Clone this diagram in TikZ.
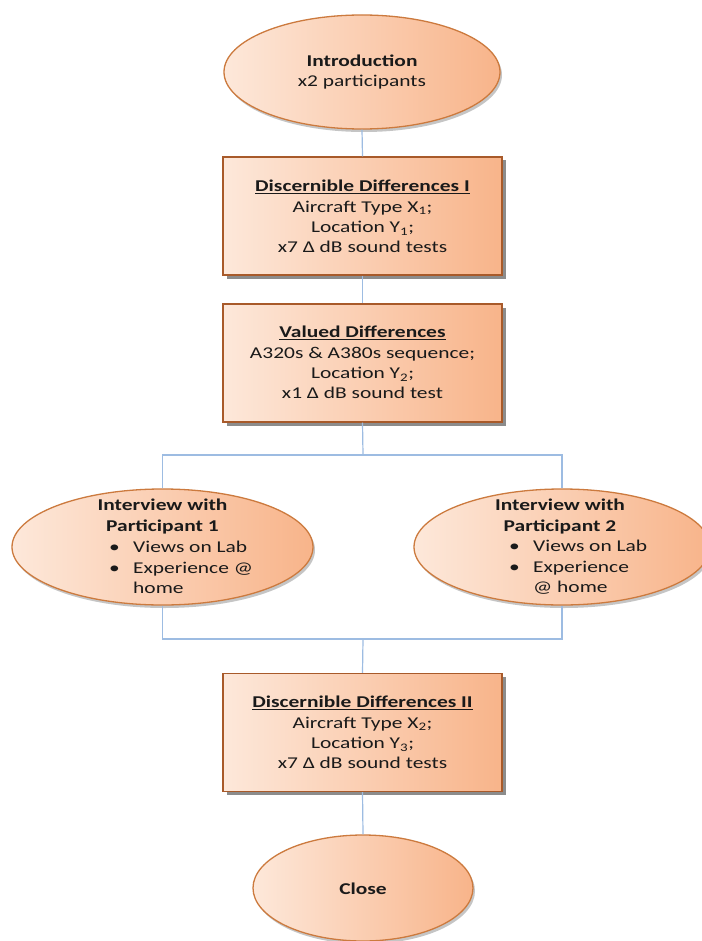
\documentclass[tikz,border=0pt]{standalone}
\usepackage{fontspec}
\setmainfont[FakeStretch=1.3]{Carlito}
\usetikzlibrary{shapes.geometric,shadows}
\definecolor{peachL}{HTML}{FDE8DA}
\definecolor{peachR}{HTML}{F8B48A}
\definecolor{ellborder}{HTML}{CC7A3E}
\definecolor{boxborder}{HTML}{A85A2A}
\definecolor{connblue}{HTML}{9DBCE2}
\definecolor{textcol}{HTML}{1A1A1A}
\begin{document}
\begin{tikzpicture}[x=1pt,y=-1pt,
  conn/.style={draw=connblue, line width=1.2pt},
  ell/.style={ellipse, draw=ellborder, line width=1.3pt, left color=peachL, right color=peachR, inner sep=0pt,
    drop shadow={shadow xshift=2pt, shadow yshift=-3pt, fill=black!50, opacity=0.45}},
  boxn/.style={rectangle, draw=boxborder, line width=1.2pt, left color=peachL, right color=peachR,
    minimum width=279pt, minimum height=118pt, inner sep=0pt,
    drop shadow={shadow xshift=3.5pt, shadow yshift=-3.5pt, fill=black!75, opacity=0.6}},
  txt/.style={font=\fontsize{16.5}{20.4}\selectfont, align=center, text=textcol, inner sep=0pt}]
\useasboundingbox (0,0) rectangle (701,941);
\fill[white] (0,0) rectangle (701,941);

% coordinates for junctions
\coordinate (jt) at (363,455);
\coordinate (jb) at (363,639);

% nodes
\node[ell, minimum width=276pt, minimum height=114pt] (intro) at (362,72) {};
\node[txt] (introt) at (362,72) {\textbf{Introduction}\\x2 participants};

\node[boxn] (b1) at (362.5,216) {};
\node[txt] (b1t) at (362.5,216.5) {\textbf{\underline{Discernible Differences I}}\\Aircraft Type X\textsubscript{1};\\Location Y\textsubscript{1};\\x7 Δ dB sound tests};

\node[boxn] (b2) at (362.5,363) {};
\node[txt] (b2t) at (362.5,362.5) {\textbf{\underline{Valued Differences}}\\A320s \& A380s sequence;\\Location Y\textsubscript{2};\\x1 Δ dB sound test};

\node[ell, minimum width=301pt, minimum height=116pt] (p1) at (162.5,547) {};
\node[txt] (p1t) at (162.5,516.5) {\textbf{Interview with}\\\textbf{Participant 1}};
\node[txt, align=left, anchor=west] (p1b) at (109,567.5) {\makebox[24pt][l]{•}Views on Lab\\\makebox[24pt][l]{•}Experience @\\\makebox[24pt][l]{}home};

\node[ell, minimum width=296pt, minimum height=116pt] (p2) at (562,547) {};
\node[txt] (p2t) at (560,516.5) {\textbf{Interview with}\\\textbf{Participant 2}};
\node[txt, align=left, anchor=west] (p2b) at (509,567.5) {\makebox[24pt][l]{•}Views on Lab\\\makebox[24pt][l]{•}Experience\\\makebox[24pt][l]{}@ home};

\node[boxn] (b3) at (362.5,732.5) {};
\node[txt] (b3t) at (362.5,732.5) {\textbf{\underline{Discernible Differences II}}\\Aircraft Type X\textsubscript{2};\\Location Y\textsubscript{3};\\x7 Δ dB sound tests};

\node[ell, minimum width=220pt, minimum height=106pt] (close) at (363,888) {};
\node[txt] (closet) at (363,889) {\textbf{Close}};

% connectors
\draw[conn] (intro.south) -- (b1.north);
\draw[conn] (b1.south) -- (b2.north);
\draw[conn] (b2.south) -- (jt);
\draw[conn] (p1.north) |- (jt) -| (p2.north);
\draw[conn] (p1.south) |- (jb) -| (p2.south);
\draw[conn] (jb) -- (b3.north);
\draw[conn] (b3.south) -- (close.north);
\end{tikzpicture}
\end{document}
